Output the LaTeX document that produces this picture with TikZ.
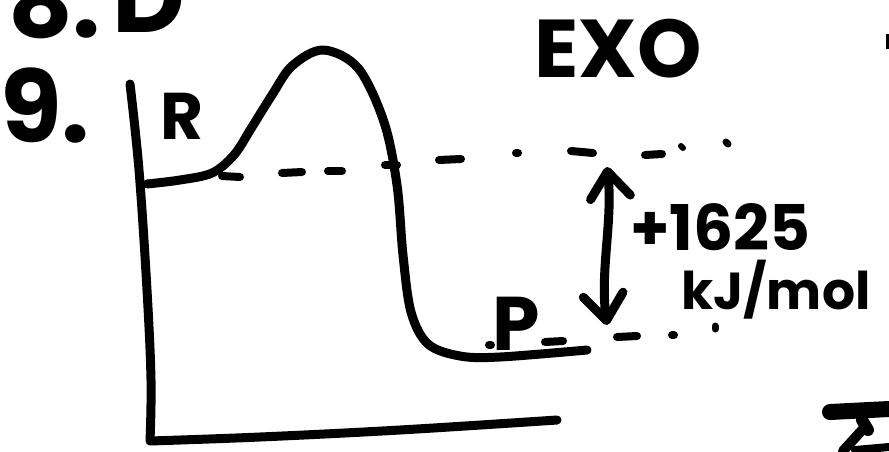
\documentclass[tikz,border=0pt]{standalone}
\usepackage{fontspec}
\setmainfont{Poppins}
\usetikzlibrary{arrows.meta}
\begin{document}
\begin{tikzpicture}[x=1pt,y=-1pt,
  pen/.style={line width=9pt,line cap=round,line join=round},
  thinpen/.style={line width=8pt,line cap=round},
  hand/.style={font=\bfseries\fontsize{#1}{#1}\selectfont,inner sep=0pt,anchor=base west},
  handtip/.tip={Straight Barb[length=26pt,width=40pt,line cap=round,line join=round]}
]
\useasboundingbox (0,0) rectangle (889,451);
\clip (0,0) rectangle (889,451);
% texts
\node[hand=100] (q8) at (8,37) {8.};
\node[hand=100] (a8) at (112,32) {D};
\node[hand=100] (q9) at (0,142) {9.};
\node[hand=82] (exo) at (534,77) {EXO};
\node[hand=66] (R) at (160,139) {R};
\node[hand=76] (P) at (492,350) {P};
\node[hand=63] (dh) at (630,250) {+1625};
\node[hand=52] (unit) at (681,309) {kJ/mol};
% axes
\draw[pen] plot[smooth,tension=0.6] coordinates {(130,84) (139,170) (147,290) (151,380) (150,441)}
  -- plot[smooth,tension=0.6] coordinates {(150,441) (260,437) (400,430) (557,420)};
% energy curve
\coordinate (rstart) at (147,184);
\coordinate (peak) at (323,50);
\coordinate (pend) at (587,350);
\draw[pen] plot[smooth,tension=0.55] coordinates {(147,184) (180,180) (212,173) (234,155) (252,127) (272,95) (292,66) (323,50) (358,68) (384,122) (397,185) (403,255) (411,312) (428,344) (460,356) (500,357) (587,350)};
% reactant level (dashed)
\draw[thinpen] (222,176) -- (240,177);
\draw[thinpen] (282,173) -- (302,172);
\draw[thinpen] (328,171) -- (342,171);
\draw[thinpen] (385,165) -- (397,165);
\draw[thinpen] (439,160) -- (461,159);
\draw[thinpen] (516,153) -- (518,153);
\draw[thinpen] (571,151) -- (593,153);
\draw[thinpen] (645,155) -- (662,154);
\draw[line width=6pt,line cap=round] (681,146) -- (683,148);
\draw[line width=7pt,line cap=round] (726,142) -- (728,144);
% product level (dashed)
\draw[thinpen] (489,345) -- (491,345);
\draw[thinpen] (545,342) -- (563,341);
\draw[thinpen] (617,337) -- (637,336);
\draw[thinpen] (672,335) -- (674,335);
\draw[line width=7pt,line cap=round] (715,326) -- (715,329);
% enthalpy arrow
\coordinate (up) at (607,167);
\coordinate (dn) at (607,325);
\draw[pen,handtip-handtip] (up) .. controls (613,220) and (600,270) .. (dn);
% partial marks at edges
\draw[line width=4pt] (888,34) -- (888,49);
\draw[line width=16pt,line cap=round] (830,412) -- (889,409);
\draw[line width=12pt,line cap=round] (862,420) -- (868,430);
\draw[line width=10pt,line cap=round] (864,428) -- (843,451);
\draw[line width=8pt,line cap=round] (855,450) -- (889,447);
\end{tikzpicture}
\end{document}
